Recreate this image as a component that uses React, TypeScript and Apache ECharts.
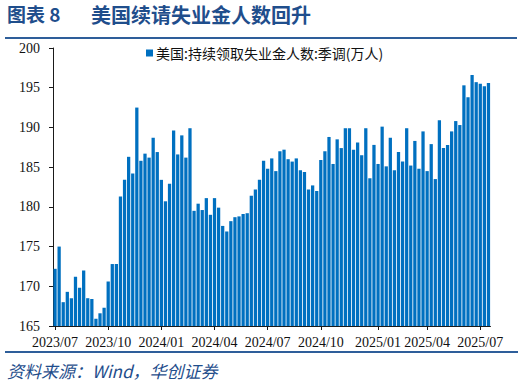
import React, { useEffect, useRef } from "react";
import * as echarts from "echarts";

const startWeek = "2023-07-01";
const weekCount = 107;

const values: number[] = [
  172.2, 175.0, 168.0, 169.3, 168.5, 171.2, 169.8, 172.0, 168.5, 168.4,
  165.9, 166.6, 167.3, 170.6, 172.8, 172.8, 181.3, 183.4, 186.3, 184.2,
  192.5, 185.8, 186.7, 186.2, 188.7, 186.9, 183.4, 180.7, 182.9, 189.6,
  186.6, 189.0, 186.2, 189.9, 179.5, 180.4, 179.6, 181.1, 179.0, 181.1,
  179.9, 177.6, 176.9, 178.2, 178.7, 178.8, 179.1, 179.2, 181.4, 182.2,
  183.4, 185.8, 184.8, 186.1, 184.5, 187.0, 187.2, 186.0, 185.7, 186.1,
  184.6, 184.4, 182.2, 182.7, 182.0, 185.9, 187.0, 188.8, 185.4, 188.5,
  187.4, 189.9, 189.9, 187.2, 188.1, 186.5, 189.9, 183.6, 187.8, 185.4,
  190.1, 185.1, 188.7, 184.6, 186.9, 185.7, 189.9, 185.2, 188.3, 184.8,
  189.5, 184.5, 187.9, 183.5, 190.9, 187.4, 187.8, 189.5, 190.8, 190.3,
  195.3, 193.8, 196.6, 195.7, 195.5, 195.2, 195.6,
];

const tickLabels = [
  "2023/07", "2023/10", "2024/01", "2024/04", "2024/07",
  "2024/10", "2025/01", "2025/04", "2025/07",
];

const seriesName = "美国:持续领取失业金人数:季调(万人)";
const titleLead = "图表 8";
const titleMain = "美国续请失业金人数回升";
const sourceText = "资料来源：Wind，华创证券";

const DAY = 86400000;
const t0 = Date.parse(startWeek + "T00:00:00Z");
const categories: string[] = [];
for (let i = 0; i < weekCount; i++) {
  categories.push(new Date(t0 + i * 7 * DAY).toISOString().slice(0, 10));
}

// index of the week closest to the 1st of each labelled month
const labelAt: Record<number, string> = {};
tickLabels.forEach((lab) => {
  const [y, m] = lab.split("/");
  const target = Date.parse(`${y}-${m}-01T00:00:00Z`);
  let best = 0;
  let bestD = Infinity;
  categories.forEach((c, i) => {
    const d = Math.abs(Date.parse(c + "T00:00:00Z") - target);
    if (d < bestD) {
      bestD = d;
      best = i;
    }
  });
  labelAt[best] = lab;
});

const BLUE_DARK = "#1F4E8C";
const RULE = "#2E5E9A";

export default function App() {
  const ref = useRef<HTMLDivElement>(null);
  useEffect(() => {
    if (!ref.current) return;
    const chart = echarts.init(ref.current, null, { renderer: "svg" });
    chart.setOption({
      animation: false,
      backgroundColor: "#ffffff",
      grid: { left: 53, right: 33.5, top: 48, bottom: 61, containLabel: false },
      legend: {
        data: [seriesName],
        left: 146,
        top: 46,
        padding: 0,
        icon: "rect",
        itemWidth: 7,
        itemHeight: 7,
        itemStyle: { color: "#0070C0" },
        textStyle: {
          fontSize: 14,
          color: "#111",
          fontFamily: "Noto Sans CJK SC",
          padding: [0, 0, 0, -2],
        },
      },
      xAxis: {
        type: "category",
        data: categories,
        boundaryGap: true,
        axisLine: { show: true, lineStyle: { color: "#1a1a1a", width: 1 } },
        axisTick: {
          show: true,
          alignWithLabel: true,
          length: 4,
          interval: (i: number) => labelAt[i] !== undefined,
          lineStyle: { color: "#1a1a1a" },
        },
        axisLabel: {
          interval: (i: number) => labelAt[i] !== undefined,
          formatter: (_v: string, i: number) => labelAt[i] ?? "",
          fontFamily: "Liberation Serif",
          fontSize: 14,
          color: "#111",
          margin: 9,
          hideOverlap: false,
        },
        splitLine: { show: false },
      },
      yAxis: {
        type: "value",
        min: 165,
        max: 200,
        interval: 5,
        axisLine: { show: true, lineStyle: { color: "#1a1a1a", width: 1 } },
        axisTick: { show: true, length: 4, lineStyle: { color: "#1a1a1a" } },
        axisLabel: {
          fontFamily: "Liberation Serif",
          fontSize: 14,
          color: "#111",
          margin: 13,
        },
        splitLine: { show: false },
      },
      series: [
        {
          name: seriesName,
          type: "bar",
          data: values,
          barCategoryGap: "20%",
          itemStyle: { color: "#0070C0" },
        },
      ],
      graphic: [
        {
          type: "text",
          left: 7,
          top: 4,
          style: {
            text: titleLead,
            fontSize: 19,
            fontWeight: "bold",
            fontFamily: "Noto Sans CJK SC",
            fill: BLUE_DARK,
          },
        },
        {
          type: "text",
          left: 91,
          top: 4,
          style: {
            text: titleMain,
            fontSize: 20,
            fontWeight: "bold",
            fontFamily: "Noto Sans CJK SC",
            fill: BLUE_DARK,
          },
        },
        {
          type: "line",
          shape: { x1: 5, y1: 38, x2: 517, y2: 38 },
          style: { stroke: RULE, lineWidth: 2 },
        },
        {
          type: "line",
          shape: { x1: 5, y1: 352, x2: 518, y2: 352 },
          style: { stroke: RULE, lineWidth: 2 },
        },
        {
          type: "text",
          left: 7,
          top: 362,
          style: {
            text: sourceText,
            fontSize: 17,
            fontStyle: "italic",
            fontFamily: "Noto Sans CJK SC",
            fill: BLUE_DARK,
          },
        },
      ],
    });
    return () => chart.dispose();
  }, []);
  return (
    <div
      ref={ref}
      style={{ position: "fixed", left: 0, top: 0, width: 524, height: 387 }}
    />
  );
}
